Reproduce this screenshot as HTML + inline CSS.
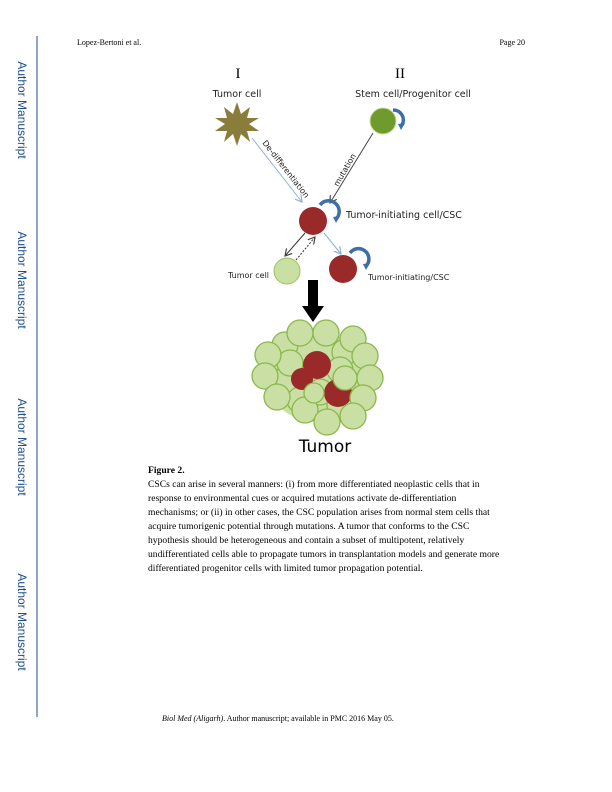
<!DOCTYPE html>
<html><head><meta charset="utf-8"><style>
body{margin:0;background:#fff}
svg{display:block}
</style></head><body>
<svg width="612" height="792" viewBox="0 0 612 792" xmlns="http://www.w3.org/2000/svg">
<defs>
<marker id="ah" markerWidth="8" markerHeight="8" refX="7" refY="4" orient="auto"><path d="M0,0 L7,4 L0,8" fill="none" stroke="#444" stroke-width="1.2"/></marker>
<marker id="ahb" markerWidth="8" markerHeight="8" refX="7" refY="4" orient="auto"><path d="M0,0 L7,4 L0,8" fill="none" stroke="#8fb1d8" stroke-width="1.2"/></marker>
</defs>
<line x1="37" y1="36" x2="37" y2="717" stroke="#1f4e8c" stroke-width="1"/>
<g font-family="Liberation Sans, sans-serif" font-size="12" fill="#1f4e8c">
<text transform="translate(18,110) rotate(90)" text-anchor="middle">Author Manuscript</text>
<text transform="translate(18,280) rotate(90)" text-anchor="middle">Author Manuscript</text>
<text transform="translate(18,447) rotate(90)" text-anchor="middle">Author Manuscript</text>
<text transform="translate(18,622) rotate(90)" text-anchor="middle">Author Manuscript</text>
</g>
<text x="77" y="45" font-family="Liberation Serif, serif" font-size="8">Lopez-Bertoni et al.</text>
<text x="525" y="45" font-family="Liberation Serif, serif" font-size="8" text-anchor="end">Page 20</text>

<g>
<text x="238" y="78" font-family="Liberation Serif, serif" font-size="15" text-anchor="middle">I</text>
<text x="400" y="78" font-family="Liberation Serif, serif" font-size="15" text-anchor="middle">II</text>
<g font-family="DejaVu Sans, sans-serif" font-size="9.5" fill="#222">
<text x="237" y="97" text-anchor="middle">Tumor cell</text>
<text x="413" y="97" text-anchor="middle">Stem cell/Progenitor cell</text>
<text x="346" y="218" font-size="9.5">Tumor-initiating cell/CSC</text>
<text x="228" y="278" font-size="8">Tumor cell</text>
<text x="368" y="280" font-size="8">Tumor-initiating/CSC</text>
<text transform="translate(262,143) rotate(52)" font-size="8">De-differentiation</text>
<text transform="translate(338,187) rotate(-60)" font-size="8">mutation</text>
</g>
<polygon points="237,102 241,114 250,107 247,118 259,118 249,124 259,131 247,131 250,142 241,134 237,146 233,134 224,142 227,131 215,131 225,124 215,118 227,118 224,107 233,114" fill="#8a7d3c"/>
<circle cx="383" cy="121" r="13" fill="#6f9a2e" stroke="#c9dd9b" stroke-width="1"/>
<path d="M393,110 A10,10 0 0 1 402,125" fill="none" stroke="#3d6ea8" stroke-width="3.5"/>
<polygon points="398,124 405,123 401,130" fill="#3d6ea8"/>
<line x1="252" y1="138" x2="302" y2="202" stroke="#8fb1d8" stroke-width="1" marker-end="url(#ahb)"/>
<line x1="373" y1="133" x2="330" y2="203" stroke="#444" stroke-width="1" marker-end="url(#ah)"/>
<circle cx="313" cy="221" r="14" fill="#9a2a2a"/>
<path d="M320,205 A10,10 0 0 1 337,218" fill="none" stroke="#3d6ea8" stroke-width="3.5"/>
<polygon points="333,217 340,216 336,223" fill="#3d6ea8"/>
<line x1="305" y1="233" x2="285" y2="256" stroke="#333" stroke-width="1" marker-end="url(#ah)"/>
<line x1="296" y1="260" x2="315" y2="237" stroke="#333" stroke-width="1" stroke-dasharray="2,1.5" marker-end="url(#ah)"/>
<line x1="324" y1="233" x2="341" y2="254" stroke="#8fb1d8" stroke-width="1" marker-end="url(#ahb)"/>
<circle cx="287" cy="271" r="13" fill="#c9dfa3" stroke="#9cc25c" stroke-width="1"/>
<circle cx="343" cy="269" r="14" fill="#9a2a2a"/>
<path d="M350,253 A10,10 0 0 1 367,265" fill="none" stroke="#3d6ea8" stroke-width="3.5"/>
<polygon points="363,264 370,263 366,270" fill="#3d6ea8"/>
<rect x="308" y="280" width="10" height="28" fill="#000"/>
<polygon points="302,306 324,306 313,322" fill="#000"/>
<ellipse cx="317" cy="377" rx="50" ry="45" fill="#c9dfa3"/>
<g fill="#c9dfa3" stroke="#8ab84a" stroke-width="1.3">
<circle cx="285" cy="345" r="13"/><circle cx="345" cy="352" r="13"/><circle cx="285" cy="380" r="13"/>
<circle cx="290" cy="363" r="13"/><circle cx="340" cy="370" r="13"/><circle cx="320" cy="392" r="13"/>
<circle cx="300" cy="400" r="13"/><circle cx="340" cy="405" r="13"/>
</g>
<circle cx="317" cy="365" r="14" fill="#9a2a2a"/>
<circle cx="302" cy="379" r="11" fill="#9a2a2a"/>
<circle cx="338" cy="393" r="14" fill="#9a2a2a"/>
<g fill="#c9dfa3" stroke="#8ab84a" stroke-width="1.3">
<circle cx="300" cy="333" r="13"/><circle cx="326" cy="333" r="13"/><circle cx="353" cy="339" r="13"/>
<circle cx="268" cy="355" r="13"/><circle cx="365" cy="356" r="13"/><circle cx="265" cy="376" r="13"/>
<circle cx="370" cy="378" r="13"/><circle cx="277" cy="397" r="13"/><circle cx="363" cy="398" r="13"/>
<circle cx="305" cy="410" r="13"/><circle cx="353" cy="416" r="13"/><circle cx="327" cy="422" r="13"/>
<circle cx="345" cy="378" r="12"/><circle cx="314" cy="393" r="10"/>
</g>
<text x="325" y="452" font-family="DejaVu Sans, sans-serif" font-size="17" text-anchor="middle">Tumor</text>
</g>

<g font-family="Liberation Serif, serif" font-size="9.6" fill="#000">
<text x="148" y="473" font-weight="bold">Figure 2.</text>
<text x="148" y="487">CSCs can arise in several manners: (i) from more differentiated neoplastic cells that in</text>
<text x="148" y="501">response to environmental cues or acquired mutations activate de-differentiation</text>
<text x="148" y="515">mechanisms; or (ii) in other cases, the CSC population arises from normal stem cells that</text>
<text x="148" y="529">acquire tumorigenic potential through mutations. A tumor that conforms to the CSC</text>
<text x="148" y="543">hypothesis should be heterogeneous and contain a subset of multipotent, relatively</text>
<text x="148" y="557">undifferentiated cells able to propagate tumors in transplantation models and generate more</text>
<text x="148" y="571">differentiated progenitor cells with limited tumor propagation potential.</text>
</g>
<text x="162" y="721" font-family="Liberation Serif, serif" font-size="8"><tspan font-style="italic">Biol Med (Aligarh)</tspan>. Author manuscript; available in PMC 2016 May 05.</text>
</svg>
</body></html>
